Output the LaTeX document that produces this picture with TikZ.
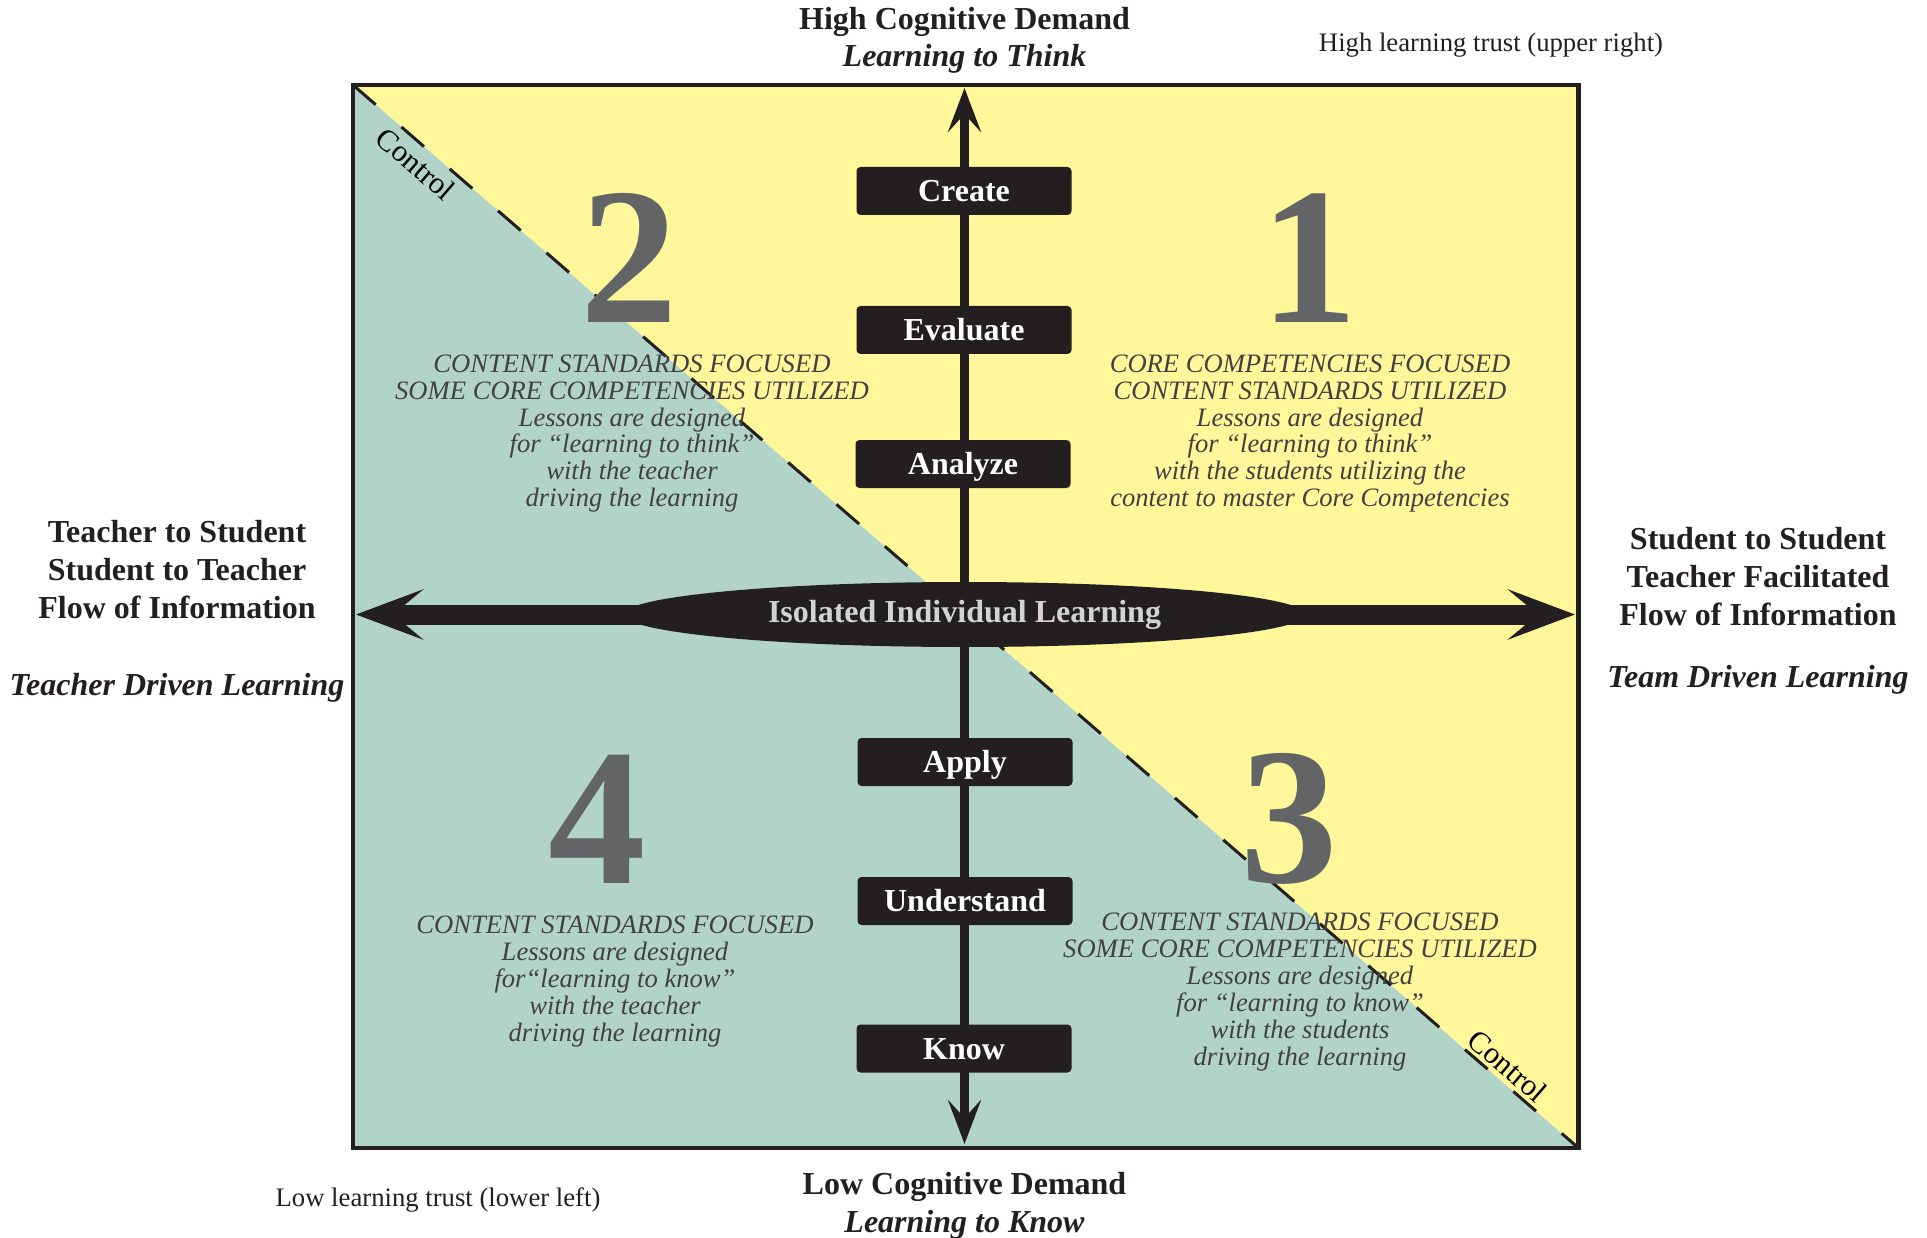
\documentclass[tikz,border=0pt]{standalone}
\usepackage{fontspec}
\setmainfont{Liberation Serif}
\usetikzlibrary{arrows.meta,shapes.geometric}
\definecolor{qyellow}{HTML}{FFF799}
\definecolor{qteal}{HTML}{B2D4C8}
\definecolor{qdark}{HTML}{231F20}
\definecolor{qnum}{HTML}{636466}
\definecolor{qtext}{HTML}{414042}
\definecolor{qlight}{HTML}{D1D3D4}
\begin{document}
\begin{tikzpicture}[x=1pt,y=-1pt,
  hdr/.style={anchor=base, inner sep=0pt, text=qdark, font=\fontsize{32}{38}\selectfont\bfseries},
  hdri/.style={hdr, font=\fontsize{32}{38}\selectfont\bfseries\itshape},
  small/.style={anchor=base, inner sep=0pt, text=qdark, font=\fontsize{26.7}{32}\selectfont},
  qt/.style={anchor=base, inner sep=0pt, text=qtext, font=\fontsize{26.6}{30}\selectfont\itshape},
  bignum/.style={anchor=base, inner sep=0pt, text=qnum, font=\fontsize{195}{200}\selectfont\bfseries},
  stepbox/.style={fill=qdark, rounded corners=4pt, minimum width=215pt, minimum height=48pt, inner sep=0pt, text=white, font=\fontsize{32}{36}\selectfont\bfseries, text height=22pt, text depth=1pt},
  ctl/.style={inner sep=0pt, text=black, font=\fontsize{30.5}{34}\selectfont, rotate=-40.94},
  diag/.style={draw=qdark, line width=3pt, dash pattern=on 30pt off 34pt},
  frame/.style={draw=qdark, line width=4.3pt},
  varrow/.style={draw=qdark, line width=9.5pt, {Stealth[length=44pt, width=33pt, inset=18pt]}-{Stealth[length=44pt, width=33pt, inset=18pt]}},
  harrow/.style={draw=qdark, line width=20pt, {Stealth[length=67pt, width=50pt, inset=30pt]}-{Stealth[length=67pt, width=50pt, inset=30pt]}}
]
\useasboundingbox (0,0) rectangle (1927,1238);
\coordinate (tl) at (353,85);
\coordinate (tr) at (1578.5,85);
\coordinate (br) at (1578.5,1148);
\coordinate (bl) at (353,1148);
\fill[qyellow] (tl) -- (tr) -- (br) -- cycle;
\fill[qteal] (tl) -- (br) -- (bl) -- cycle;
\draw[diag] (tl) -- (br);
\draw[frame] (tl) rectangle (br);

% axes
\coordinate (vt) at (964.5,88);
\coordinate (vb) at (964.5,1144);
\coordinate (hl) at (356,614.5);
\coordinate (hr) at (1575,614.5);
\draw[varrow] (vb) -- (vt);
\draw[harrow] (hl) -- (hr);
\node[ellipse, fill=qdark, minimum width=682pt, minimum height=65pt, inner sep=0pt, text=qlight, font=\fontsize{32}{36}\selectfont\bfseries] (iso) at (964.5,614.5) {Isolated Individual Learning};

% level boxes
\node[stepbox] (create) at (964,191) {Create};
\node[stepbox] (evaluate) at (964,330) {Evaluate};
\node[stepbox] (analyze) at (963,464) {Analyze};
\node[stepbox] (apply) at (965,762) {Apply};
\node[stepbox] (understand) at (965,901) {Understand};
\node[stepbox] (know) at (964,1048.5) {Know};

% big numbers
\node[bignum] (n2) at (629,323) {2};
\node[bignum] (n1) at (1309,323) {1};
\node[bignum] (n3) at (1289,882) {3};
\node[bignum] (n4) at (597,883) {4};

% control labels
\node[ctl] (c1) at (416,164) {Control};
\node[ctl] (c2) at (1508,1066) {Control};

% quadrant texts
\foreach \t [count=\i] in {CONTENT STANDARDS FOCUSED, SOME CORE COMPETENCIES UTILIZED, Lessons are designed, for “learning to think”, with the teacher, driving the learning}
  \node[qt] (qb\i) at (632,{372.5+26.8*(\i-1)}) {\t};
\foreach \t [count=\i] in {CORE COMPETENCIES FOCUSED, CONTENT STANDARDS UTILIZED, Lessons are designed, for “learning to think”, with the students utilizing the, content to master Core Competencies}
  \node[qt] (qa\i) at (1310,{372.5+26.8*(\i-1)}) {\t};
\foreach \t [count=\i] in {CONTENT STANDARDS FOCUSED, Lessons are designed, for“learning to know”, with the teacher, driving the learning}
  \node[qt] (qd\i) at (615,{933+27*(\i-1)}) {\t};
\foreach \t [count=\i] in {CONTENT STANDARDS FOCUSED, SOME CORE COMPETENCIES UTILIZED, Lessons are designed, for “learning to know”, with the students, driving the learning}
  \node[qt] (qc\i) at (1300,{930+27*(\i-1)}) {\t};

% headers
\node[hdr] (hi1) at (964.5,29.5) {High Cognitive Demand};
\node[hdri] (hi2) at (964.5,67) {Learning to Think};
\node[hdr] (lo1) at (964.5,1194) {Low Cognitive Demand};
\node[hdri] (lo2) at (964.5,1232.5) {Learning to Know};
\node[small] (ht) at (1491,52) {High learning trust (upper right)};
\node[small] (lt) at (438,1206) {Low learning trust (lower left)};

% left side
\node[hdr] (l1) at (177,542) {Teacher to Student};
\node[hdr] (l2) at (177,580) {Student to Teacher};
\node[hdr] (l3) at (177,618) {Flow of Information};
\node[hdri] (l4) at (177,695) {Teacher Driven Learning};
% right side
\node[hdr] (r1) at (1758,549) {Student to Student};
\node[hdr] (r2) at (1758,587) {Teacher Facilitated};
\node[hdr] (r3) at (1758,625) {Flow of Information};
\node[hdri] (r4) at (1758,687.5) {Team Driven Learning};
\end{tikzpicture}
\end{document}
